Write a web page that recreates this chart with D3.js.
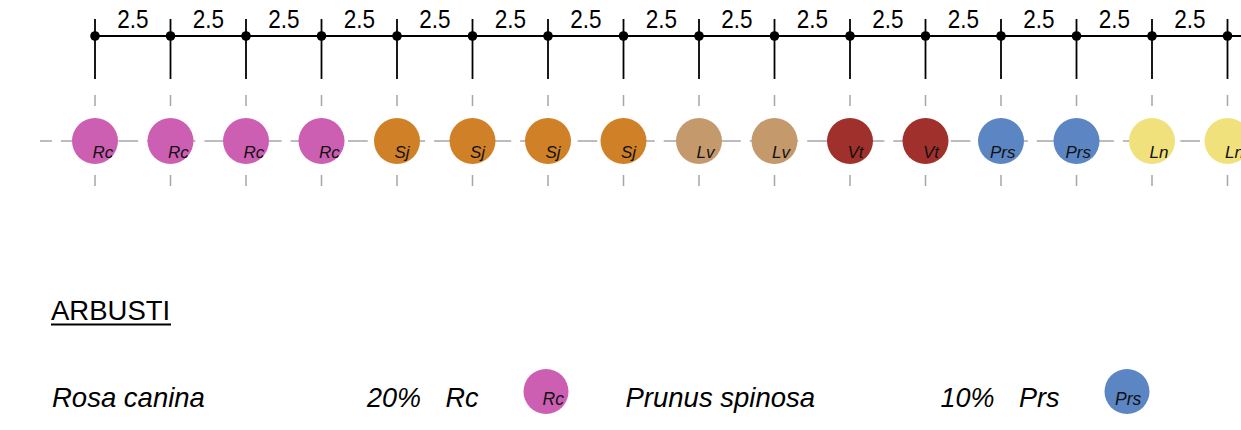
<!DOCTYPE html>
<html>
<head>
<meta charset="utf-8">
<script src="https://cdn.jsdelivr.net/npm/d3@7"></script>
<style>
  html, body { margin: 0; padding: 0; background: #fff; }
  svg { display: block; }
  text { font-family: "Liberation Sans", Arial, sans-serif; }
</style>
</head>
<body>
<svg id="chart" width="1241" height="430"></svg>
<script>
// ---- data ----
const segments = [2.5, 2.5, 2.5, 2.5, 2.5, 2.5, 2.5, 2.5, 2.5, 2.5, 2.5, 2.5, 2.5, 2.5, 2.5];
const segmentLabels = ["2.5", "2.5", "2.5", "2.5", "2.5", "2.5", "2.5", "2.5", "2.5", "2.5", "2.5", "2.5", "2.5", "2.5", "2.5"];
const plantCodes = ["Rc", "Rc", "Rc", "Rc", "Sj", "Sj", "Sj", "Sj", "Lv", "Lv", "Vt", "Vt", "Prs", "Prs", "Ln", "Ln"];
const speciesCodes = ["Rc", "Sj", "Lv", "Vt", "Prs", "Ln"];
const speciesColors = ["#cd5fb3", "#d08026", "#c49a6d", "#a0302b", "#5b86c3", "#f0e17d"];
const legendTitle = "ARBUSTI";
const legendNames = ["Rosa canina", "Prunus spinosa"];
const legendPercents = ["20%", "10%"];
const legendCodes = ["Rc", "Prs"];

// ---- layout ----
const W = 1241, H = 430;
const svg = d3.select("#chart");
const color = d3.scaleOrdinal().domain(speciesCodes).range(speciesColors);

const cum = [0];
segments.forEach((s, i) => cum.push(cum[i] + s));
const x = d3.scaleLinear().domain([0, d3.sum(segments)]).range([95, 1227.5]);

const lineY = 36, rowY = 141, r = 23;

// dashed guide lines
const g0 = svg.append("g");
g0.append("line")
  .attr("x1", 40).attr("x2", W).attr("y1", rowY).attr("y2", rowY)
  .attr("stroke", "#a6a6a6").attr("stroke-width", 1.5)
  .attr("stroke-dasharray", "19.7,9").attr("stroke-dashoffset", 7.7);
g0.selectAll("line.v").data(cum).join("line")
  .attr("class", "v")
  .attr("x1", d => x(d)).attr("x2", d => x(d))
  .attr("y1", 95).attr("y2", 187)
  .attr("stroke", "#a6a6a6").attr("stroke-width", 1.5)
  .attr("stroke-dasharray", "11,29");

// dimension line
const g1 = svg.append("g");
g1.append("line")
  .attr("x1", x(0)).attr("x2", W).attr("y1", lineY).attr("y2", lineY)
  .attr("stroke", "#000").attr("stroke-width", 1.8);
g1.selectAll("line.t").data(cum).join("line")
  .attr("class", "t")
  .attr("x1", d => x(d)).attr("x2", d => x(d))
  .attr("y1", 19).attr("y2", 79)
  .attr("stroke", "#000").attr("stroke-width", 1.8);
g1.selectAll("circle").data(cum).join("circle")
  .attr("cx", d => x(d)).attr("cy", lineY).attr("r", 4.8).attr("fill", "#000");
g1.selectAll("text").data(segmentLabels).join("text")
  .attr("transform", (d, i) => `translate(${x((cum[i] + cum[i + 1]) / 2)},28) scale(0.9,1)`)
  .attr("text-anchor", "middle")
  .attr("font-size", 25)
  .attr("fill", "#000")
  .text(d => d);

// plants
const g2 = svg.append("g");
const plants = g2.selectAll("g").data(plantCodes).join("g")
  .attr("transform", (d, i) => `translate(${x(cum[i])},${rowY})`);
plants.append("circle").attr("r", r).attr("fill", d => color(d));
plants.append("text")
  .attr("x", d => d.length > 2 ? -11 : -2.5)
  .attr("y", 16.5)
  .attr("font-size", 17)
  .attr("font-style", "italic")
  .attr("fill", "#111")
  .text(d => d);

// legend
const lg = svg.append("g");
lg.append("text").attr("x", 51).attr("y", 320)
  .attr("font-size", 27.5).attr("fill", "#000").text(legendTitle);
lg.append("line").attr("x1", 51).attr("x2", 171).attr("y1", 324.5).attr("y2", 324.5)
  .attr("stroke", "#000").attr("stroke-width", 2.2);

legendNames.forEach((name, i) => {
  const bx = 52 + i * 573.5;
  const by = 407;
  lg.append("text").attr("x", bx).attr("y", by)
    .attr("font-size", 27.5).attr("font-style", "italic").attr("fill", "#000").text(name);
  lg.append("text").attr("x", bx + 315).attr("y", by)
    .attr("font-size", 27).attr("font-style", "italic").attr("fill", "#000").text(legendPercents[i]);
  const code = lg.append("text").attr("x", bx + 393.5).attr("y", by)
    .attr("font-size", 27).attr("font-style", "italic").attr("fill", "#000").text(legendCodes[i]);
  const codeEnd = bx + 393.5 + code.node().getComputedTextLength();
  const cx = codeEnd + 45 + 22.5;
  lg.append("circle").attr("cx", cx).attr("cy", 391.5).attr("r", 22.5)
    .attr("fill", color(legendCodes[i]));
  lg.append("text")
    .attr("x", cx + (legendCodes[i].length > 2 ? -12 : -3.5))
    .attr("y", 405)
    .attr("font-size", 17.5).attr("font-style", "italic").attr("fill", "#111")
    .text(legendCodes[i]);
});
</script>
</body>
</html>
